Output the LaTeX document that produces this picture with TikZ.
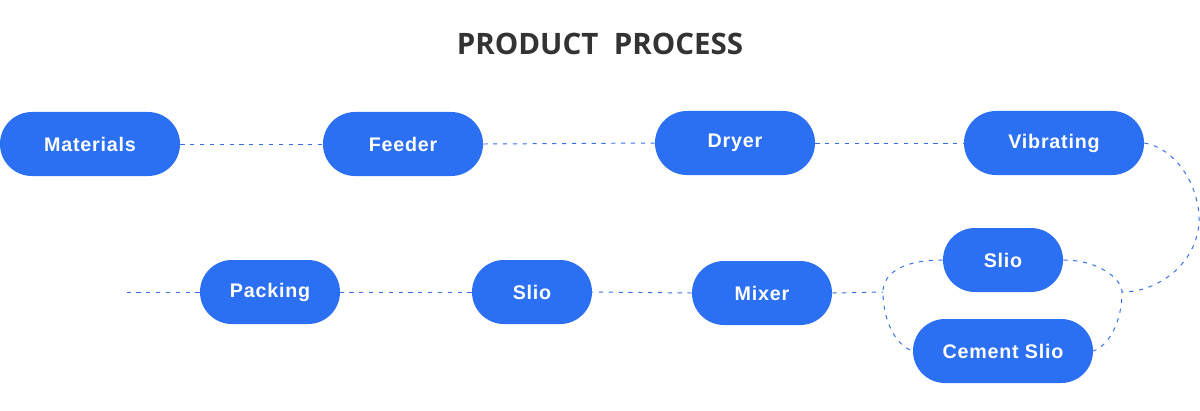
\documentclass[tikz,border=0pt]{standalone}
\usepackage{fontspec}
\setmainfont{Liberation Sans}
\newfontfamily\titlefont{Open Sans}
\definecolor{pblue}{RGB}{43,111,242}
\definecolor{lblue}{RGB}{55,110,235}
\definecolor{tgray}{RGB}{51,51,51}
\tikzset{
	stage/.style={fill=pblue, text=white, rounded corners=0.8cm, minimum height=1.6cm, inner sep=0pt, font=\bfseries\fontsize{14}{16}\selectfont\addfontfeature{LetterSpace=4}},
	link/.style={lblue, line width=0.7pt, dash pattern=on 3pt off 4pt}
}
\begin{document}
\begin{tikzpicture}[x=0.025cm, y=-0.025cm]
					\useasboundingbox (0,0) rectangle (1200,410);
					\node[font=\titlefont\bfseries\fontsize{21}{25}\selectfont, text=tgray] (title) at (600,44) {PRODUCT\ \ PROCESS};
					% top row
					\node[stage, minimum width=4.5cm] (materials) at (90,144) {Materials};
					\node[stage, minimum width=4cm] (feeder) at (403,144) {Feeder};
					\node[stage, minimum width=4cm] (dryer) at (735,143) {Dryer};
					\node[stage, minimum width=4.5cm] (vibrating) at (1054,143) {Vibrating};
					% bottom row
					\node[stage, minimum width=3cm] (slioup) at (1003,260) {Slio};
					\node[stage, minimum width=4.5cm] (cement) at (1003,351) {Cement Slio};
					\node[stage, minimum width=3.5cm] (mixer) at (762,293) {Mixer};
					\node[stage, minimum width=3cm] (slio) at (532,292) {Slio};
					\node[stage, minimum width=3.5cm] (packing) at (270,292) {Packing};
					\coordinate (rjoin) at (1122,292);
					\coordinate (ljoin) at (883,292);
					\coordinate (lend) at (127,292);
					\draw[link] (materials.east) -- (feeder.west);
					\draw[link] (feeder.east) -- (dryer.west);
					\draw[link] (dryer.east) -- (vibrating.west);
					\draw[link] (vibrating.east) .. controls (1175,148) and (1200,185) .. (1199,222) .. controls (1197,262) and (1160,292) .. (rjoin);
					\draw[link] (slioup.east) .. controls (1100,260) and (1122,280) .. (rjoin) .. controls (1122,320) and (1110,345) .. (cement.east);
					\draw[link] (slioup.west) .. controls (905,260) and (883,272) .. (ljoin) .. controls (883,320) and (895,345) .. (cement.west);
					\draw[link] (mixer.east) -- (ljoin);
					\draw[link] (mixer.west) -- (slio.east);
					\draw[link] (slio.west) -- (packing.east);
					\draw[link] (packing.west) -- (lend);
\end{tikzpicture}
\end{document}
